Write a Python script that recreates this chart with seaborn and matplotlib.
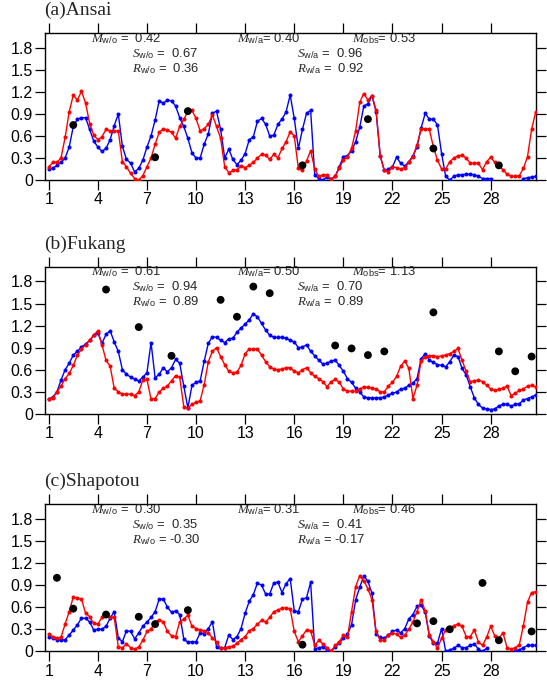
import numpy as np
import pandas as pd
import matplotlib
matplotlib.use("Agg")
import matplotlib.pyplot as plt
import seaborn as sns

nan = np.nan

# ---------------- data ----------------
days = 1 + 0.25 * np.arange(120)          # 6-hourly samples, day 1 .. 30.75
x_ticks = [1, 4, 7, 10, 13, 16, 19, 22, 25, 28]
y_ticks = [0, 0.3, 0.6, 0.9, 1.2, 1.5, 1.8]
y_tick_labels = ["0", "0.3", "0.6", "0.9", "1.2", "1.5", "1.8"]

panel_titles = ["(a)Ansai", "(b)Fukang", "(c)Shapotou"]

ansai_wo = [0.18,0.24,0.24,0.30,0.58,0.93,1.16,1.09,1.21,1.05,
            0.77,0.61,0.55,0.59,0.69,0.67,0.67,0.67,0.25,0.18,
            0.09,0.02,0.00,0.06,0.18,0.30,0.49,0.65,0.70,0.68,
            0.65,0.57,0.73,0.83,0.93,0.95,0.84,0.67,0.70,0.76,
            0.89,0.73,0.57,0.18,0.10,0.13,0.14,0.19,0.17,0.20,
            0.24,0.30,0.35,0.34,0.28,0.35,0.30,0.43,0.52,0.66,
            0.60,0.16,0.13,0.26,0.40,0.15,0.05,0.07,0.07,0.01,
            0.05,0.16,0.27,0.32,0.43,0.67,1.06,1.18,1.09,1.15,
            0.95,0.33,0.13,0.11,0.18,0.17,0.15,0.17,0.24,0.32,
            0.48,0.69,0.70,0.69,0.45,0.27,0.15,0.15,0.25,0.30,
            0.33,0.34,0.30,0.23,0.23,0.23,0.14,0.25,0.31,0.24,
            0.19,0.14,0.08,0.05,0.05,0.06,0.16,0.32,0.69,0.93]
ansai_wa = [0.15,0.16,0.20,0.24,0.30,0.45,0.73,0.83,0.85,0.85,
            0.69,0.53,0.45,0.39,0.43,0.55,0.74,0.90,0.46,0.28,
            0.23,0.11,0.16,0.27,0.45,0.60,0.82,1.08,1.05,1.09,
            1.08,1.01,0.85,0.73,0.57,0.37,0.30,0.30,0.49,0.63,
            0.91,0.94,0.69,0.30,0.42,0.28,0.21,0.27,0.36,0.55,
            0.59,0.80,0.84,0.76,0.60,0.61,0.76,0.83,0.93,1.16,
            0.84,0.43,0.69,0.91,0.95,0.07,0.02,0.00,0.04,0.01,
            0.05,0.18,0.32,0.33,0.40,0.52,0.72,1.01,1.04,1.15,
            0.93,0.33,0.13,0.15,0.18,0.31,0.23,0.19,0.25,0.33,
            0.45,0.71,0.91,0.83,0.83,0.75,0.36,0.05,0.00,0.05,
            0.07,0.07,0.08,0.08,0.07,0.05,0.02,0.02,0.02,nan,
            nan,nan,nan,nan,nan,nan,0.02,0.03,0.04,0.05]
ansai_obs_x = [2.5, 7.5, 9.5, 16.5, 20.5, 24.5, 28.5]
ansai_obs_y = [0.75, 0.31, 0.94, 0.20, 0.83, 0.43, 0.20]

fukang_wo = [0.20,0.22,0.30,0.38,0.48,0.55,0.66,0.80,0.88,0.94,
             1.00,1.07,1.13,0.94,0.73,0.65,0.35,0.30,0.27,0.27,
             0.27,0.25,0.30,0.46,0.47,0.20,0.21,0.30,0.35,0.38,
             0.45,0.52,0.50,0.10,0.08,0.13,0.16,0.18,0.40,0.71,
             0.85,0.90,0.78,0.67,0.58,0.56,0.57,0.66,0.82,0.88,
             0.88,0.88,0.80,0.71,0.64,0.61,0.60,0.61,0.63,0.63,
             0.58,0.56,0.60,0.63,0.56,0.51,0.48,0.44,0.37,0.44,
             0.47,0.43,0.34,0.31,0.31,0.31,0.34,0.37,0.36,0.35,
             0.34,0.30,0.30,0.38,0.43,0.51,0.65,0.72,0.62,0.21,
             0.39,0.72,0.78,0.79,0.79,0.78,0.79,0.80,0.82,0.85,
             0.89,0.73,0.58,0.44,0.45,0.46,0.44,0.39,0.34,0.32,
             0.34,0.35,0.38,0.25,0.28,0.32,0.34,0.38,0.39,0.37]
fukang_wa = [0.20,0.23,0.30,0.46,0.60,0.69,0.80,0.85,0.91,0.95,
             1.00,1.07,1.10,0.96,1.08,1.13,0.98,0.85,0.60,0.54,
             0.50,0.47,0.45,0.50,0.56,0.97,0.49,0.54,0.63,0.57,
             0.63,0.74,0.69,0.38,0.08,0.39,0.43,0.45,0.72,0.96,
             1.05,1.04,1.00,0.97,1.02,1.03,1.11,1.17,1.22,1.28,
             1.36,1.32,1.23,1.14,1.07,1.04,1.04,1.04,1.03,1.00,
             0.98,0.90,0.91,0.94,0.85,0.79,0.73,0.68,0.69,0.72,
             0.73,0.66,0.58,0.48,0.43,0.35,0.30,0.23,0.22,0.22,
             0.22,0.22,0.23,0.26,0.28,0.30,0.34,0.35,0.39,0.42,
             0.48,0.75,0.82,0.73,0.70,0.67,0.66,0.64,0.71,0.80,
             0.78,0.62,0.53,0.37,0.22,0.13,0.08,0.07,0.06,0.07,
             0.11,0.13,0.13,0.11,0.13,0.14,0.19,0.21,0.23,0.26]
fukang_obs_x = [4.5, 6.5, 8.5, 11.5, 12.5, 13.5, 14.5, 18.5, 19.5, 20.5,
                21.5, 24.5, 28.5, 29.5, 30.5]
fukang_obs_y = [1.69, 1.18, 0.79, 1.55, 1.32, 1.73, 1.64, 0.93, 0.89, 0.80,
                0.85, 1.38, 0.85, 0.58, 0.78]

shapotou_wo = [0.24,0.20,0.18,0.19,0.37,0.54,0.74,0.72,0.71,0.52,
               0.47,0.38,0.37,0.46,0.50,0.47,0.46,0.06,0.05,0.10,
               0.05,0.03,0.06,0.15,0.27,0.30,0.40,0.43,0.40,0.27,
               0.21,0.20,0.40,0.44,0.49,0.34,0.31,0.29,0.28,0.25,
               0.18,0.13,0.04,0.05,0.06,0.07,0.11,0.16,0.20,0.28,
               0.31,0.37,0.42,0.40,0.46,0.54,0.56,0.59,0.59,0.58,
               0.27,0.13,0.21,0.29,0.28,0.08,0.15,0.10,0.05,0.00,
               0.08,0.13,0.22,0.19,0.54,0.88,1.03,0.96,0.85,0.70,
               0.27,0.15,0.15,0.22,0.25,0.23,0.19,0.22,0.30,0.40,
               0.54,0.70,0.55,0.22,0.13,0.04,0.18,0.29,0.32,0.35,
               0.37,0.34,0.20,0.20,0.29,0.13,0.08,0.19,0.34,0.21,
               0.18,0.25,0.05,0.03,0.05,0.09,0.35,0.67,0.80,0.81]
shapotou_wa = [0.20,0.18,0.16,0.15,0.16,0.22,0.29,0.36,0.45,0.45,
               0.40,0.29,0.30,0.30,0.34,0.45,0.54,0.18,0.13,0.28,
               0.27,0.17,0.25,0.34,0.40,0.46,0.54,0.71,0.71,0.60,
               0.53,0.55,0.50,0.17,0.12,0.13,0.13,0.25,0.24,0.31,
               0.40,0.06,0.04,0.05,0.22,0.16,0.20,0.31,0.52,0.68,
               0.77,0.93,0.90,0.78,0.78,0.93,0.94,0.80,0.92,0.99,
               0.55,0.54,0.71,0.73,0.94,0.03,0.05,0.06,0.02,0.00,
               0.06,0.11,0.18,0.23,0.36,0.70,0.87,1.03,0.95,0.79,
               0.23,0.19,0.18,0.22,0.27,0.29,0.25,0.31,0.44,0.50,
               0.61,0.63,0.53,0.21,0.11,0.11,0.31,0.00,0.02,0.04,
               0.08,0.05,0.05,0.08,0.10,0.03,0.00,0.04,nan,nan,
               nan,nan,nan,nan,0.01,0.02,0.05,0.08,0.08,0.08]
shapotou_obs_x = [1.5, 2.5, 4.5, 6.5, 7.5, 9.5, 16.5, 23.5, 24.5, 25.5, 27.5, 28.5, 30.5]
shapotou_obs_y = [1.00, 0.58, 0.50, 0.47, 0.37, 0.56, 0.09, 0.38, 0.41, 0.30, 0.93, 0.15, 0.27]

# statistics text per panel
stats_M_wo = ["0.42", "0.61", "0.30"]
stats_M_wa = ["0.40", "0.50", "0.31"]
stats_M_obs = ["0.53", "1.13", "0.46"]
stats_S_wo = ["0.67", "0.94", "0.35"]
stats_S_wa = ["0.96", "0.70", "0.41"]
stats_R_wo = ["0.36", "0.89", "-0.30"]
stats_R_wa = ["0.92", "0.89", "-0.17"]

series_wo = [ansai_wo, fukang_wo, shapotou_wo]
series_wa = [ansai_wa, fukang_wa, shapotou_wa]
obs_x = [ansai_obs_x, fukang_obs_x, shapotou_obs_x]
obs_y = [ansai_obs_y, fukang_obs_y, shapotou_obs_y]

# ---------------- style ----------------
sns.set_theme(style="ticks")
plt.rcParams["font.family"] = ["Liberation Sans", "DejaVu Sans"]
plt.rcParams["mathtext.fontset"] = "custom"
plt.rcParams["mathtext.it"] = "Liberation Serif:italic"
plt.rcParams["mathtext.rm"] = "Liberation Sans"
plt.rcParams["mathtext.sf"] = "Liberation Sans"
plt.rcParams["axes.edgecolor"] = "black"
plt.rcParams["axes.linewidth"] = 1.0

W, H = 547, 687
fig = plt.figure(figsize=(W / 100, H / 100), dpi=100)
left_px, right_px = 45.3, 535.7
panel_px = [(33.4, 180.0), (266.7, 414.0), (504.3, 651.3)]


def make_df(vals):
    v = np.asarray(vals, dtype=float)
    seg = np.cumsum(np.isnan(v))
    df = pd.DataFrame({"day": days, "val": v, "seg": seg}).dropna()
    return df


for k in range(3):
    top, bot = panel_px[k]
    ax = fig.add_axes([left_px / W, 1 - bot / H, (right_px - left_px) / W, (bot - top) / H])

    df_wa = make_df(series_wa[k])
    df_wo = make_df(series_wo[k])
    sns.lineplot(data=df_wa, x="day", y="val", units="seg", estimator=None,
                 color="#0000ff", marker="o", markersize=2.9, markeredgewidth=0,
                 linewidth=1.0, ax=ax, legend=False, zorder=3)
    sns.lineplot(data=df_wo, x="day", y="val", units="seg", estimator=None,
                 color="#ff0000", marker="o", markersize=2.9, markeredgewidth=0,
                 linewidth=1.0, ax=ax, legend=False, zorder=4)
    sns.scatterplot(x=obs_x[k], y=obs_y[k], color="black", s=32, edgecolor="none",
                    ax=ax, legend=False, zorder=5)

    ax.set_xlim(0.79, 30.75)
    ax.set_ylim(0, 2.0)
    ax.set_xticks(x_ticks)
    ax.set_xticklabels([str(t) for t in x_ticks])
    ax.set_yticks(y_ticks)
    ax.set_yticklabels(y_tick_labels)
    ax.set_xlabel("")
    ax.set_ylabel("")
    ax.tick_params(axis="both", which="both", direction="out", length=7, width=0.9,
                   top=True, right=True, labeltop=False, labelright=False,
                   labelsize=11.5, pad=2, colors="black")
    for sp in ax.spines.values():
        sp.set_visible(True)
        sp.set_color("black")
        sp.set_linewidth(1.0)

    h = bot - top
    ax.text(-0.002, 1 + 18 / h, panel_titles[k], transform=ax.transAxes,
            fontfamily="Liberation Serif", fontsize=14, ha="left", va="baseline")

    tr = ax.get_xaxis_transform()
    yM, yS, yR = 1 - 5.0 / h, 1 - 20 / h, 1 - 35.0 / h
    fs = 9.4
    ax.text(3.58, yM, r"$M_{\mathrm{w/o}}$ =  " + stats_M_wo[k], transform=tr,
            fontsize=fs, ha="left", va="center")
    ax.text(12.49, yM, r"$M_{\mathrm{w/a}}$= " + stats_M_wa[k], transform=tr,
            fontsize=fs, ha="left", va="center")
    ax.text(19.53, yM, r"$M_{\mathrm{obs}}$= " + stats_M_obs[k], transform=tr,
            fontsize=fs, ha="left", va="center")
    ax.text(6.09, yS, r"$S_{\mathrm{w/o}}$ =  " + stats_S_wo[k], transform=tr,
            fontsize=fs, ha="left", va="center")
    ax.text(16.15, yS, r"$S_{\mathrm{w/a}}$ =  " + stats_S_wa[k], transform=tr,
            fontsize=fs, ha="left", va="center")
    ax.text(6.09, yR, r"$R_{\mathrm{w/o}}$ = " + ("" if stats_R_wo[k].startswith("-") else " ") + stats_R_wo[k],
            transform=tr, fontsize=fs, ha="left", va="center")
    ax.text(16.15, yR, r"$R_{\mathrm{w/a}}$ = " + ("" if stats_R_wa[k].startswith("-") else " ") + stats_R_wa[k],
            transform=tr, fontsize=fs, ha="left", va="center")

fig.savefig("out.png", dpi=100, facecolor="white")
